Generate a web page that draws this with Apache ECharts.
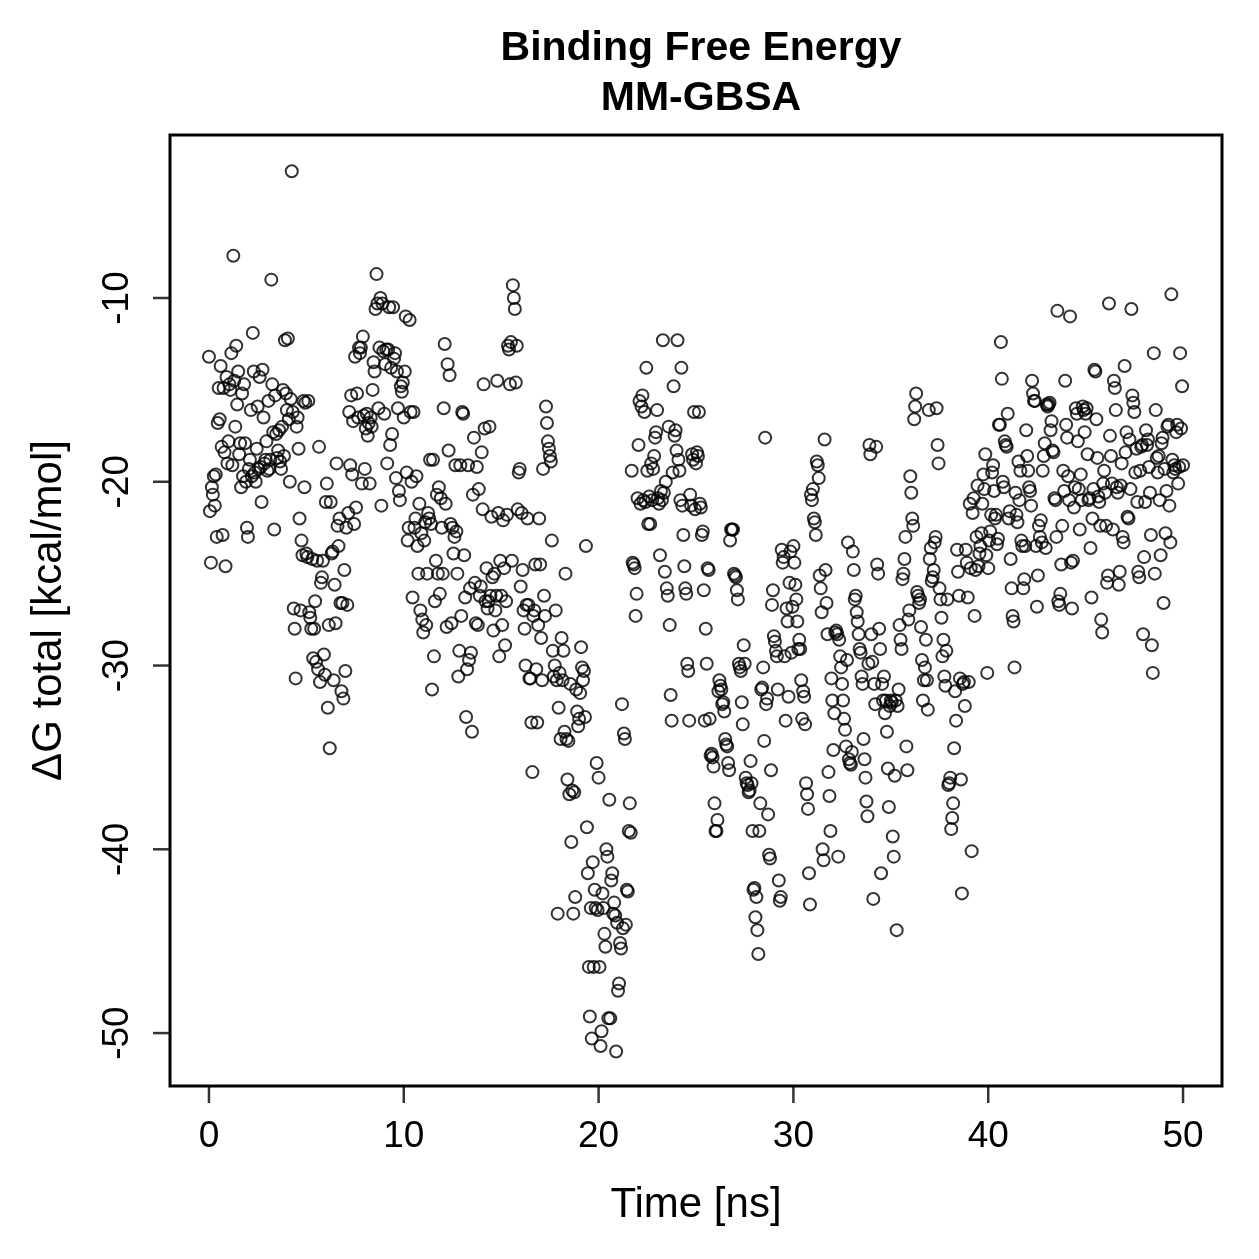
<!DOCTYPE html>
<html lang="en">
<head>
<meta charset="UTF-8">
<title>Binding Free Energy MM-GBSA</title>
<script src="https://cdn.jsdelivr.net/npm/echarts@6/dist/echarts.min.js"></script>
<style>
  body { margin: 0; padding: 0; background: #fff; }
  #chart { width: 1259px; height: 1259px; }
</style>
</head>
<body>
<div id="chart"></div>
<script>
// [time ns, dG kcal/mol] in 5 ns pieces
var dG_00_05 = [[0.0,-13.2],[0.05,-21.6],[0.1,-24.4],[0.15,-20.3],[0.2,-20.7],[0.25,-19.7],[0.3,-21.3],[0.35,-19.6],[0.4,-23.0],[0.45,-16.8],[0.5,-14.9],[0.55,-16.6],[0.6,-13.7],[0.65,-18.1],[0.7,-22.9],[0.75,-14.9],[0.8,-18.4],[0.85,-24.6],[0.9,-14.3],[0.95,-19.0],[1.0,-17.8],[1.05,-14.7],[1.1,-15.0],[1.15,-13.0],[1.2,-19.1],[1.25,-7.7],[1.3,-14.5],[1.35,-17.0],[1.4,-12.6],[1.45,-15.8],[1.5,-14.0],[1.55,-18.5],[1.6,-17.9],[1.65,-20.3],[1.7,-15.2],[1.75,-19.7],[1.8,-14.7],[1.85,-17.9],[1.9,-20.0],[1.95,-22.5],[2.0,-23.0],[2.05,-19.3],[2.1,-18.8],[2.15,-16.1],[2.2,-19.7],[2.25,-11.9],[2.3,-14.0],[2.35,-19.5],[2.4,-20.0],[2.45,-18.2],[2.5,-15.9],[2.55,-19.3],[2.6,-14.3],[2.65,-19.2],[2.7,-21.1],[2.75,-13.9],[2.8,-16.5],[2.85,-19.0],[2.9,-18.8],[2.95,-17.8],[3.0,-19.4],[3.05,-15.6],[3.1,-19.3],[3.15,-18.8],[3.2,-9.0],[3.25,-14.7],[3.3,-17.3],[3.35,-22.6],[3.4,-15.3],[3.45,-17.4],[3.5,-18.7],[3.55,-18.3],[3.6,-17.2],[3.65,-18.9],[3.7,-19.3],[3.75,-17.0],[3.8,-15.0],[3.85,-18.6],[3.9,-12.3],[3.95,-15.2],[4.0,-16.1],[4.05,-12.2],[4.1,-16.6],[4.15,-20.0],[4.2,-15.5],[4.25,-3.1],[4.3,-16.2],[4.35,-26.9],[4.4,-28.0],[4.45,-30.7],[4.5,-17.0],[4.55,-16.5],[4.6,-18.2],[4.65,-22.0],[4.7,-27.0],[4.75,-23.2],[4.8,-24.0],[4.85,-15.6],[4.9,-20.3],[4.95,-15.7]];
var dG_05_10 = [[5.0,-23.9],[5.05,-24.1],[5.1,-15.6],[5.15,-27.1],[5.2,-27.4],[5.25,-28.0],[5.3,-24.2],[5.35,-29.6],[5.4,-28.0],[5.45,-26.5],[5.5,-29.8],[5.55,-24.3],[5.6,-30.2],[5.65,-18.1],[5.7,-30.9],[5.75,-25.5],[5.8,-25.2],[5.85,-24.3],[5.9,-29.4],[5.95,-30.5],[6.0,-21.1],[6.05,-20.1],[6.1,-32.3],[6.15,-27.8],[6.2,-34.5],[6.25,-21.1],[6.3,-23.9],[6.35,-23.8],[6.4,-30.8],[6.45,-25.6],[6.5,-27.7],[6.55,-19.0],[6.6,-22.4],[6.65,-23.5],[6.7,-22.0],[6.75,-26.6],[6.8,-31.4],[6.85,-26.6],[6.9,-31.8],[6.95,-24.8],[7.0,-30.3],[7.05,-22.5],[7.1,-26.7],[7.15,-21.7],[7.2,-16.2],[7.25,-19.1],[7.3,-15.3],[7.35,-19.6],[7.4,-16.7],[7.45,-22.3],[7.5,-13.2],[7.55,-21.4],[7.6,-15.2],[7.65,-16.5],[7.7,-12.7],[7.75,-13.0],[7.8,-12.7],[7.85,-20.1],[7.9,-12.1],[7.95,-16.4],[8.0,-19.3],[8.05,-17.1],[8.1,-16.3],[8.15,-17.5],[8.2,-16.8],[8.25,-20.1],[8.3,-16.5],[8.35,-17.0],[8.4,-15.0],[8.45,-13.5],[8.5,-14.0],[8.55,-10.6],[8.6,-8.7],[8.65,-10.3],[8.7,-16.0],[8.75,-12.7],[8.8,-10.0],[8.85,-21.3],[8.9,-10.3],[8.95,-12.9],[9.0,-16.3],[9.05,-13.6],[9.1,-12.8],[9.15,-19.0],[9.2,-12.8],[9.25,-10.5],[9.3,-18.0],[9.35,-13.8],[9.4,-17.4],[9.45,-10.5],[9.5,-13.3],[9.55,-13.0],[9.6,-19.8],[9.65,-14.0],[9.7,-16.0],[9.75,-20.5],[9.8,-21.0],[9.85,-14.8],[9.9,-15.1],[9.95,-14.6]];
var dG_10_15 = [[10.0,-16.5],[10.05,-14.0],[10.1,-11.0],[10.15,-19.5],[10.2,-23.2],[10.25,-22.5],[10.3,-11.2],[10.35,-16.2],[10.4,-20.0],[10.45,-26.3],[10.5,-16.2],[10.55,-22.5],[10.6,-22.0],[10.65,-19.7],[10.7,-23.5],[10.75,-25.0],[10.8,-21.2],[10.85,-27.0],[10.9,-22.8],[10.95,-27.5],[11.0,-28.2],[11.05,-23.2],[11.1,-22.2],[11.15,-27.8],[11.2,-25.0],[11.25,-21.7],[11.3,-22.0],[11.35,-18.8],[11.4,-22.3],[11.45,-31.3],[11.5,-18.8],[11.55,-29.5],[11.6,-26.5],[11.65,-24.3],[11.7,-20.7],[11.75,-25.0],[11.8,-20.3],[11.85,-26.1],[11.9,-20.9],[11.95,-22.5],[12.0,-25.0],[12.05,-16.0],[12.1,-12.5],[12.15,-21.2],[12.2,-27.9],[12.25,-13.6],[12.3,-18.3],[12.35,-14.2],[12.4,-22.3],[12.45,-27.7],[12.5,-22.5],[12.55,-23.9],[12.6,-23.0],[12.65,-19.1],[12.7,-22.7],[12.75,-25.0],[12.8,-30.6],[12.85,-29.2],[12.9,-19.1],[12.95,-27.3],[13.0,-16.2],[13.05,-16.3],[13.1,-24.0],[13.15,-26.3],[13.2,-32.8],[13.25,-30.2],[13.3,-19.1],[13.35,-29.7],[13.4,-25.8],[13.45,-29.3],[13.5,-33.6],[13.55,-20.7],[13.6,-17.6],[13.65,-25.5],[13.7,-27.7],[13.75,-19.2],[13.8,-27.8],[13.85,-20.4],[13.9,-26.2],[13.95,-25.7],[14.0,-18.4],[14.05,-21.5],[14.1,-14.7],[14.15,-17.1],[14.2,-26.5],[14.25,-24.7],[14.3,-26.9],[14.35,-26.5],[14.4,-17.0],[14.45,-26.2],[14.5,-21.9],[14.55,-25.2],[14.6,-28.1],[14.65,-25.0],[14.7,-27.0],[14.75,-26.2],[14.8,-14.5],[14.85,-21.7],[14.9,-29.5],[14.95,-24.3]];
var dG_15_20 = [[15.0,-26.2],[15.05,-27.8],[15.1,-22.1],[15.15,-24.7],[15.2,-28.9],[15.25,-26.5],[15.3,-21.8],[15.35,-12.6],[15.4,-12.8],[15.45,-14.7],[15.5,-12.4],[15.55,-24.3],[15.6,-9.3],[15.65,-10.0],[15.7,-10.6],[15.75,-14.6],[15.8,-12.6],[15.85,-21.5],[15.9,-19.5],[15.95,-19.3],[16.0,-25.7],[16.05,-21.7],[16.1,-24.8],[16.15,-27.0],[16.2,-28.0],[16.25,-30.0],[16.3,-26.7],[16.35,-22.0],[16.4,-26.7],[16.45,-30.7],[16.5,-30.7],[16.55,-33.1],[16.6,-35.8],[16.65,-27.3],[16.7,-27.0],[16.75,-24.5],[16.8,-30.2],[16.85,-33.1],[16.9,-27.8],[16.95,-22.0],[17.0,-24.5],[17.05,-28.5],[17.1,-30.8],[17.15,-19.3],[17.2,-26.2],[17.25,-27.3],[17.3,-15.9],[17.35,-16.8],[17.4,-17.8],[17.45,-18.2],[17.5,-18.6],[17.55,-18.9],[17.6,-23.2],[17.65,-29.2],[17.7,-30.6],[17.75,-30.0],[17.8,-27.0],[17.85,-30.8],[17.9,-43.5],[17.95,-32.3],[18.0,-30.4],[18.05,-34.0],[18.1,-28.5],[18.15,-30.8],[18.2,-29.2],[18.25,-33.6],[18.3,-25.0],[18.35,-34.0],[18.4,-36.2],[18.45,-34.1],[18.5,-37.0],[18.55,-31.0],[18.6,-39.6],[18.65,-36.8],[18.7,-43.5],[18.75,-36.9],[18.8,-42.6],[18.85,-31.3],[18.9,-32.5],[18.95,-33.3],[19.0,-32.9],[19.05,-31.5],[19.1,-29.0],[19.15,-30.1],[19.2,-30.8],[19.25,-30.3],[19.3,-32.8],[19.35,-23.5],[19.4,-38.8],[19.45,-41.3],[19.5,-46.4],[19.55,-49.1],[19.6,-43.2],[19.65,-50.3],[19.7,-40.7],[19.75,-46.4],[19.8,-42.2],[19.85,-43.2],[19.9,-35.3],[19.95,-43.3]];
var dG_20_25 = [[20.0,-36.1],[20.05,-46.4],[20.1,-50.7],[20.15,-49.9],[20.2,-42.4],[20.25,-43.2],[20.3,-44.6],[20.35,-45.3],[20.4,-40.0],[20.45,-40.4],[20.5,-49.2],[20.55,-37.3],[20.6,-49.2],[20.65,-41.7],[20.7,-41.3],[20.75,-43.5],[20.8,-42.9],[20.85,-43.6],[20.9,-51.0],[20.95,-44.0],[21.0,-47.7],[21.05,-47.3],[21.1,-45.1],[21.15,-45.4],[21.2,-32.1],[21.25,-44.3],[21.3,-33.7],[21.35,-34.0],[21.4,-44.1],[21.45,-42.2],[21.5,-42.3],[21.55,-39.0],[21.6,-37.5],[21.65,-39.1],[21.7,-19.4],[21.75,-24.4],[21.8,-24.5],[21.85,-24.7],[21.9,-27.3],[21.95,-26.1],[22.0,-20.9],[22.05,-18.0],[22.1,-15.6],[22.15,-21.2],[22.2,-15.9],[22.25,-15.3],[22.3,-21.0],[22.35,-16.2],[22.4,-21.1],[22.45,-13.8],[22.5,-19.4],[22.55,-22.3],[22.6,-20.8],[22.65,-22.3],[22.7,-19.0],[22.75,-21.0],[22.8,-19.3],[22.85,-18.6],[22.9,-17.6],[22.95,-17.3],[23.0,-16.1],[23.05,-20.9],[23.1,-21.2],[23.15,-24.0],[23.2,-20.5],[23.25,-21.0],[23.3,-12.3],[23.35,-20.6],[23.4,-24.9],[23.45,-20.0],[23.5,-25.8],[23.55,-26.2],[23.6,-17.0],[23.65,-27.8],[23.7,-31.6],[23.75,-33.0],[23.8,-19.5],[23.85,-14.8],[23.9,-17.5],[23.95,-17.2],[24.0,-18.3],[24.05,-12.3],[24.1,-18.8],[24.15,-19.4],[24.2,-21.0],[24.25,-13.8],[24.3,-21.3],[24.35,-22.9],[24.4,-24.6],[24.45,-25.8],[24.5,-26.1],[24.55,-29.9],[24.6,-30.3],[24.65,-33.0],[24.7,-20.7],[24.75,-21.3],[24.8,-18.5],[24.85,-18.8],[24.9,-16.2],[24.95,-21.5]];
var dG_25_30 = [[25.0,-19.0],[25.05,-18.4],[25.1,-18.6],[25.15,-16.2],[25.2,-21.2],[25.25,-21.4],[25.3,-22.9],[25.35,-22.7],[25.4,-25.9],[25.45,-33.0],[25.5,-28.0],[25.55,-29.9],[25.6,-24.7],[25.65,-24.8],[25.7,-32.9],[25.75,-34.9],[25.8,-34.8],[25.85,-35.0],[25.9,-35.5],[25.95,-37.5],[26.0,-39.0],[26.05,-39.0],[26.1,-38.4],[26.15,-31.4],[26.2,-30.8],[26.25,-31.1],[26.3,-31.3],[26.35,-32.1],[26.4,-32.0],[26.45,-32.5],[26.5,-34.0],[26.55,-34.3],[26.6,-34.4],[26.65,-35.3],[26.7,-35.7],[26.75,-23.2],[26.8,-22.6],[26.85,-22.6],[26.9,-22.6],[26.95,-25.0],[27.0,-25.1],[27.05,-25.2],[27.1,-25.9],[27.15,-26.4],[27.2,-29.9],[27.25,-30.1],[27.3,-30.3],[27.35,-32.0],[27.4,-33.2],[27.45,-28.9],[27.5,-29.9],[27.55,-36.1],[27.6,-36.4],[27.65,-36.5],[27.7,-36.9],[27.75,-36.8],[27.8,-35.2],[27.85,-36.4],[27.9,-39.0],[27.95,-42.2],[28.0,-42.1],[28.05,-43.7],[28.1,-42.6],[28.15,-44.4],[28.2,-45.7],[28.25,-39.0],[28.3,-37.5],[28.35,-31.3],[28.4,-31.2],[28.45,-30.1],[28.5,-34.1],[28.55,-17.6],[28.6,-32.1],[28.65,-31.8],[28.7,-38.1],[28.75,-40.3],[28.8,-40.5],[28.85,-35.7],[28.9,-26.7],[28.95,-25.9],[29.0,-28.4],[29.05,-28.7],[29.1,-29.2],[29.15,-29.5],[29.2,-31.3],[29.25,-41.7],[29.3,-42.8],[29.35,-42.6],[29.4,-23.7],[29.45,-24.4],[29.5,-24.1],[29.55,-29.5],[29.6,-33.0],[29.65,-26.9],[29.7,-27.6],[29.75,-31.7],[29.8,-25.5],[29.85,-23.8],[29.9,-29.3],[29.95,-26.8]];
var dG_30_35 = [[30.0,-23.5],[30.05,-24.4],[30.1,-25.6],[30.15,-26.4],[30.2,-27.6],[30.25,-29.1],[30.3,-28.6],[30.35,-29.1],[30.4,-30.8],[30.45,-32.9],[30.5,-31.4],[30.55,-31.7],[30.6,-33.2],[30.65,-36.4],[30.7,-37.0],[30.75,-37.8],[30.8,-41.3],[30.85,-43.0],[30.9,-20.7],[30.95,-21.0],[31.0,-20.4],[31.05,-22.0],[31.1,-22.2],[31.15,-22.9],[31.2,-18.9],[31.25,-19.1],[31.3,-19.8],[31.35,-25.1],[31.4,-25.8],[31.45,-27.1],[31.5,-40.0],[31.55,-40.6],[31.6,-17.7],[31.65,-24.8],[31.7,-26.6],[31.75,-28.3],[31.8,-35.8],[31.85,-37.1],[31.9,-39.0],[31.95,-30.7],[32.0,-31.9],[32.05,-34.6],[32.1,-32.6],[32.15,-28.2],[32.2,-28.1],[32.25,-28.3],[32.3,-40.4],[32.35,-28.6],[32.4,-29.5],[32.45,-30.1],[32.5,-31.0],[32.55,-31.9],[32.6,-32.9],[32.65,-33.5],[32.7,-34.4],[32.75,-29.7],[32.8,-23.3],[32.85,-35.1],[32.9,-35.3],[32.95,-35.4],[33.0,-34.7],[33.05,-23.8],[33.1,-24.8],[33.15,-26.4],[33.2,-26.2],[33.25,-27.1],[33.3,-27.6],[33.35,-28.3],[33.4,-29.1],[33.45,-29.3],[33.5,-30.6],[33.55,-31.0],[33.6,-34.0],[33.65,-35.1],[33.7,-36.1],[33.75,-37.4],[33.8,-38.2],[33.85,-29.9],[33.9,-18.0],[33.95,-18.5],[34.0,-28.3],[34.05,-29.8],[34.1,-42.7],[34.15,-31.0],[34.2,-32.1],[34.25,-18.1],[34.3,-24.5],[34.35,-25.0],[34.4,-28.0],[34.45,-29.1],[34.5,-41.3],[34.55,-31.0],[34.6,-31.9],[34.65,-30.6],[34.7,-32.6],[34.75,-31.9],[34.8,-33.6],[34.85,-35.6],[34.9,-37.7],[34.95,-32.2]];
var dG_35_40 = [[35.0,-31.9],[35.05,-32.0],[35.1,-39.3],[35.15,-40.4],[35.2,-36.0],[35.25,-31.9],[35.3,-44.4],[35.35,-32.2],[35.4,-31.3],[35.45,-27.8],[35.5,-28.6],[35.55,-29.1],[35.6,-25.3],[35.65,-25.0],[35.7,-24.2],[35.75,-23.0],[35.8,-34.4],[35.85,-35.7],[35.9,-27.5],[35.95,-27.0],[36.0,-19.7],[36.05,-20.6],[36.1,-22.0],[36.15,-22.4],[36.2,-16.6],[36.25,-15.9],[36.3,-15.2],[36.35,-26.0],[36.4,-26.2],[36.45,-26.6],[36.5,-26.4],[36.55,-27.9],[36.6,-29.7],[36.65,-31.9],[36.7,-30.8],[36.75,-30.1],[36.8,-28.6],[36.85,-30.8],[36.9,-32.4],[36.95,-16.1],[37.0,-24.2],[37.05,-23.6],[37.1,-25.4],[37.15,-25.2],[37.2,-24.8],[37.25,-23.3],[37.3,-23.0],[37.35,-16.0],[37.4,-18.0],[37.45,-19.0],[37.5,-25.8],[37.55,-26.4],[37.6,-27.4],[37.65,-29.5],[37.7,-28.6],[37.75,-30.6],[37.8,-31.1],[37.85,-29.2],[37.9,-26.4],[37.95,-36.5],[38.0,-36.4],[38.05,-36.1],[38.1,-38.9],[38.15,-38.3],[38.2,-37.5],[38.25,-34.5],[38.3,-31.4],[38.35,-33.0],[38.4,-23.7],[38.45,-24.9],[38.5,-26.2],[38.55,-30.7],[38.6,-36.2],[38.65,-42.4],[38.7,-31.0],[38.75,-30.9],[38.8,-32.2],[38.85,-23.7],[38.9,-24.4],[38.95,-26.3],[39.0,-30.9],[39.05,-21.2],[39.1,-24.7],[39.15,-40.1],[39.2,-21.7],[39.25,-20.9],[39.3,-27.3],[39.35,-24.8],[39.4,-23.0],[39.45,-20.2],[39.5,-24.6],[39.55,-23.9],[39.6,-23.5],[39.65,-22.8],[39.7,-21.2],[39.75,-19.6],[39.8,-20.4],[39.85,-18.5],[39.9,-24.0],[39.95,-30.4]];
var dG_40_45 = [[40.0,-24.7],[40.05,-23.2],[40.1,-22.7],[40.15,-21.8],[40.2,-19.5],[40.25,-19.1],[40.3,-20.5],[40.35,-22.0],[40.4,-21.8],[40.45,-23.4],[40.5,-23.1],[40.55,-16.9],[40.6,-16.9],[40.65,-12.4],[40.7,-14.4],[40.75,-20.0],[40.8,-20.3],[40.85,-17.8],[40.9,-18.0],[40.95,-18.1],[41.0,-16.3],[41.05,-22.0],[41.1,-21.6],[41.15,-24.2],[41.2,-25.8],[41.25,-27.3],[41.3,-27.6],[41.35,-30.1],[41.4,-20.6],[41.45,-21.8],[41.5,-22.2],[41.55,-18.9],[41.6,-21.0],[41.65,-19.4],[41.7,-23.2],[41.75,-23.5],[41.8,-25.8],[41.85,-25.3],[41.9,-23.5],[41.95,-17.2],[42.0,-18.6],[42.05,-19.4],[42.1,-20.3],[42.15,-20.5],[42.2,-21.3],[42.25,-14.5],[42.3,-15.2],[42.35,-15.6],[42.4,-15.6],[42.45,-23.5],[42.5,-26.8],[42.55,-25.1],[42.6,-22.4],[42.65,-23.0],[42.7,-22.1],[42.75,-23.3],[42.8,-19.4],[42.85,-18.6],[42.9,-17.9],[42.95,-23.6],[43.0,-15.8],[43.05,-15.9],[43.1,-15.8],[43.15,-15.7],[43.2,-17.2],[43.25,-16.7],[43.3,-18.3],[43.35,-18.4],[43.4,-20.9],[43.45,-21.0],[43.5,-23.0],[43.55,-10.7],[43.6,-26.5],[43.65,-26.7],[43.7,-26.1],[43.75,-24.5],[43.8,-22.4],[43.85,-19.4],[43.9,-20.5],[43.95,-14.5],[44.0,-16.9],[44.05,-17.6],[44.1,-19.7],[44.15,-21.0],[44.2,-11.0],[44.25,-24.4],[44.3,-26.9],[44.35,-24.3],[44.4,-21.4],[44.45,-20.3],[44.5,-16.0],[44.55,-16.3],[44.6,-17.8],[44.65,-20.4],[44.7,-22.6],[44.75,-19.6],[44.8,-21.0],[44.85,-15.9],[44.9,-16.1],[44.95,-17.3]];
var dG_45_50 = [[45.0,-16.3],[45.05,-16.0],[45.1,-18.5],[45.15,-21.0],[45.2,-20.9],[45.25,-23.6],[45.3,-26.3],[45.35,-22.0],[45.4,-20.4],[45.45,-13.9],[45.5,-14.0],[45.55,-16.6],[45.6,-18.7],[45.65,-20.8],[45.7,-21.1],[45.75,-22.4],[45.8,-27.5],[45.85,-28.2],[45.9,-20.1],[45.95,-19.4],[46.0,-20.6],[46.05,-22.4],[46.1,-25.5],[46.15,-25.1],[46.2,-10.3],[46.25,-17.5],[46.3,-18.6],[46.35,-20.1],[46.4,-22.6],[46.45,-14.5],[46.5,-14.9],[46.55,-16.1],[46.6,-20.3],[46.65,-20.6],[46.7,-25.6],[46.75,-24.9],[46.8,-20.2],[46.85,-19.0],[46.9,-23.0],[46.95,-23.3],[47.0,-13.7],[47.05,-18.4],[47.1,-17.3],[47.15,-21.9],[47.2,-22.0],[47.25,-17.7],[47.3,-20.4],[47.35,-10.6],[47.4,-15.3],[47.45,-15.7],[47.5,-16.2],[47.55,-19.5],[47.6,-18.2],[47.65,-21.1],[47.7,-24.9],[47.75,-25.2],[47.8,-19.4],[47.85,-18.1],[47.9,-18.0],[47.95,-28.3],[48.0,-24.1],[48.05,-21.1],[48.1,-17.2],[48.15,-18.0],[48.2,-17.7],[48.25,-19.2],[48.3,-20.6],[48.35,-22.9],[48.4,-28.9],[48.45,-30.4],[48.5,-13.0],[48.55,-25.0],[48.6,-16.1],[48.65,-18.7],[48.7,-19.5],[48.75,-18.6],[48.8,-21.0],[48.85,-24.0],[48.9,-17.9],[48.95,-17.6],[49.0,-26.6],[49.05,-19.3],[49.1,-22.8],[49.15,-20.5],[49.2,-17.0],[49.25,-16.9],[49.3,-21.3],[49.35,-23.3],[49.4,-9.8],[49.45,-18.8],[49.5,-19.5],[49.55,-19.1],[49.6,-19.3],[49.65,-17.3],[49.7,-16.9],[49.75,-20.1],[49.8,-19.2],[49.85,-13.0],[49.9,-17.1],[49.95,-14.8],[50.0,-19.1]];

var xTicks = [0, 10, 20, 30, 40, 50];
var yTicks = [-50, -40, -30, -20, -10];

// axis ranges: data range padded 4% like R does
var xMin = -2, xMax = 52;
var yMin = -52.88, yMax = -1.13;

var allPoints = [].concat(dG_00_05, dG_05_10, dG_10_15, dG_15_20, dG_20_25,
                          dG_25_30, dG_30_35, dG_35_40, dG_40_45, dG_45_50);

// tick marks sit on the box edges, placed through the axis scales
var xTickMarks = xTicks.map(function (v) { return [v, yMin]; });
var yTickMarks = yTicks.map(function (v) { return [xMin, v]; });

var font = '"Liberation Sans", Arial, Helvetica, sans-serif';
var labelStyle = { fontFamily: font, fontSize: 37, color: '#000' };
var tickLen = 17;

var myChart = echarts.init(document.getElementById('chart'), null, { renderer: 'canvas' });

myChart.setOption({
    animation: false,
    backgroundColor: '#ffffff',
    title: {
        text: 'Binding Free Energy\nMM-GBSA',
        left: 696,
        top: 19,
        textAlign: 'center',
        textStyle: {
            fontFamily: font,
            fontSize: 41,
            fontWeight: 'bold',
            color: '#000',
            lineHeight: 50
        }
    },
    grid: {
        left: 170, right: 37, top: 135, bottom: 173,
        show: true, borderColor: '#000', borderWidth: 3,
        backgroundColor: 'transparent'
    },
    xAxis: {
        type: 'value', min: xMin, max: xMax,
        name: 'Time [ns]',
        nameLocation: 'middle',
        nameGap: 98,
        nameTextStyle: { fontFamily: font, fontSize: 42, color: '#000' },
        axisLine: { show: false, onZero: false },
        axisTick: { show: false },
        axisLabel: Object.assign({ customValues: xTicks, margin: 32 }, labelStyle),
        splitLine: { show: false }
    },
    yAxis: {
        type: 'value', min: yMin, max: yMax,
        name: 'ΔG total [kcal/mol]',
        nameLocation: 'middle',
        nameGap: 100,
        nameRotate: 90,
        nameTextStyle: { fontFamily: font, fontSize: 42, color: '#000' },
        axisLine: { show: false, onZero: false },
        axisTick: { show: false },
        axisLabel: Object.assign({ customValues: yTicks, margin: 34, rotate: 90 }, labelStyle),
        splitLine: { show: false }
    },
    series: [{
        type: 'scatter',
        data: allPoints,
        symbol: 'circle',
        symbolSize: 12,
        itemStyle: {
            color: 'rgba(0,0,0,0)',
            borderColor: '#000',
            borderWidth: 2
        },
        emphasis: { disabled: true }
    }, {
        // x tick marks, hanging below the box
        type: 'scatter',
        data: xTickMarks,
        symbol: 'rect',
        symbolSize: [2.5, tickLen],
        symbolOffset: [0, tickLen / 2],
        clip: false,
        silent: true,
        itemStyle: { color: '#000' },
        emphasis: { disabled: true }
    }, {
        // y tick marks, sticking out left of the box
        type: 'scatter',
        data: yTickMarks,
        symbol: 'rect',
        symbolSize: [tickLen, 2.5],
        symbolOffset: [-tickLen / 2, 0],
        clip: false,
        silent: true,
        itemStyle: { color: '#000' },
        emphasis: { disabled: true }
    }]
});
</script>
</body>
</html>
